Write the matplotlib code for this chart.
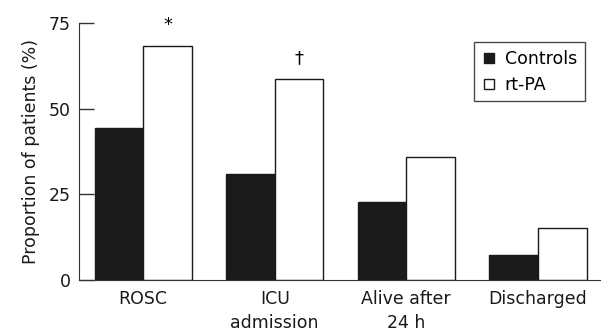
import numpy as np
import matplotlib.pyplot as plt
from matplotlib.lines import Line2D

categories = ['ROSC', 'ICU\nadmission', 'Alive after\n24 h', 'Discharged']
controls = [44.5, 30.8, 22.7, 7.3]
rtpa = [68.2, 58.6, 35.9, 15.1]
marks = ['*', '\u2020', '', '']

x = np.arange(len(categories))
w = 0.37

fig = plt.figure(figsize=(6.01, 3.33), dpi=100)
ax = fig.add_axes([0.131, 0.159, 0.869, 0.772])

ax.bar(x - w/2, controls, w, color='#1a1a1a', edgecolor='#1a1a1a', linewidth=1)
ax.bar(x + w/2, rtpa, w, color='white', edgecolor='#1a1a1a', linewidth=1)

for xi, v, m in zip(x, rtpa, marks):
    if m:
        ax.text(xi + w/2, v + 3.5, m, ha='center', va='bottom', fontsize=13, clip_on=False)

ax.set_xlim(-0.49, 3.48)
ax.set_ylim(0, 75)
ax.set_yticks([0, 25, 50, 75])
ax.set_xticks(x)
ax.set_xticklabels(categories, fontsize=12.5, linespacing=1.45)
ax.tick_params(axis='y', direction='in', length=11, width=1, labelsize=12.5, colors='#333333', labelcolor='#1a1a1a', pad=6)
ax.tick_params(axis='x', length=0, pad=7, labelcolor='#1a1a1a')
ax.set_ylabel('Proportion of patients (%)', fontsize=12.5, color='#1a1a1a', labelpad=6)

for s in ('top', 'right'):
    ax.spines[s].set_visible(False)
ax.spines['left'].set_color('#333333')
ax.spines['bottom'].set_color('#333333')

handles = [Line2D([], [], marker='s', ls='none', markersize=7, markerfacecolor='#1a1a1a', markeredgecolor='#1a1a1a'),
           Line2D([], [], marker='s', ls='none', markersize=7, markerfacecolor='white', markeredgecolor='#1a1a1a')]
leg = ax.legend(handles, ['Controls', 'rt-PA'], loc='upper right', bbox_to_anchor=(0.969, 0.926),
                fontsize=12.5, frameon=True, fancybox=False, handlelength=0.8, handletextpad=0.5,
                borderpad=0.45, labelspacing=0.45, borderaxespad=0)
leg.get_frame().set_edgecolor('#1a1a1a')
leg.get_frame().set_linewidth(1)

fig.savefig('out.png', dpi=100)
